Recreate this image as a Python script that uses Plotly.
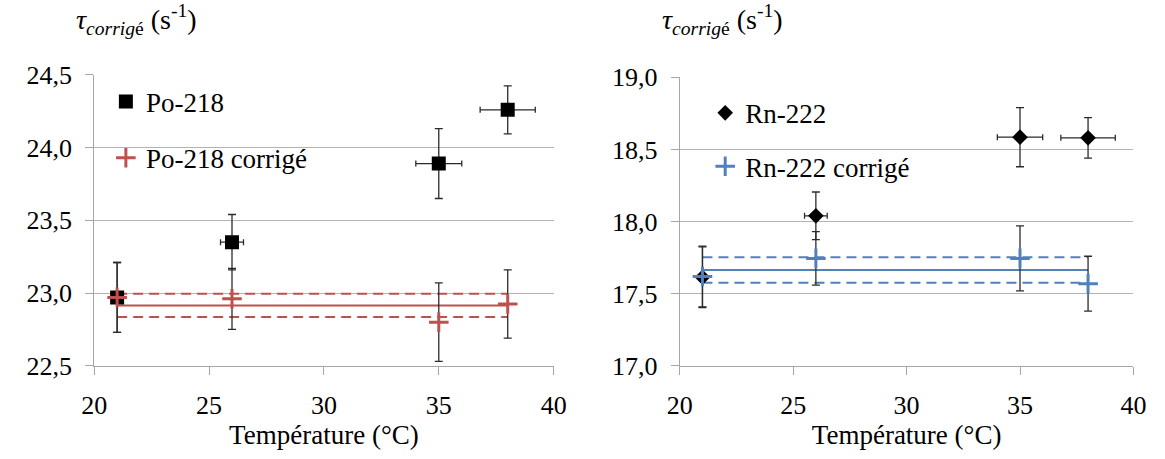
import plotly.graph_objects as go

# ---- data ----
temps = [21, 26, 35, 38]

po218 = [22.97, 23.35, 23.89, 24.26]
po218_err_y = [0.24, 0.19, 0.24, 0.165]
po218_err_x = [0, 0.5, 1.0, 1.2]
po218_corr = [22.97, 22.96, 22.80, 22.925]
po218_corr_err = [0.24, 0.21, 0.27, 0.235]
po218_mean = 22.915
po218_sd = 0.08

rn222 = [17.615, 18.04, 18.585, 18.58]
rn222_err_y = [0.21, 0.165, 0.205, 0.14]
rn222_err_x = [0, 0.5, 1.0, 1.2]
rn222_corr = [17.62, 17.745, 17.745, 17.57]
rn222_corr_err = [0.21, 0.185, 0.225, 0.19]
rn222_mean = 17.665
rn222_sd = 0.088

x_ticks = [20, 25, 30, 35, 40]
left_y_ticks = [22.5, 23.0, 23.5, 24.0, 24.5]
right_y_ticks = [17.0, 17.5, 18.0, 18.5, 19.0]

# ---- style ----
W, H = 1165, 459
RED = "#c0504d"
BLUE = "#4f81bd"
ERR = "#2b2b2b"
AXC = "#a6a6a6"
GRID = "#b3b3b3"
FONT = "serif"

fig = go.Figure()

def add_panel(xa, ya, raw, raw_ex, raw_ey, corr, corr_e, mean, sd, color, raw_name, corr_name, raw_sym, raw_size, leg1, leg2):
    xs = [temps[0], temps[-1]]
    for val, dash in [(mean + sd, "10px,6px"), (mean - sd, "10px,6px"), (mean, "solid")]:
        fig.add_trace(go.Scatter(x=xs, y=[val, val], mode="lines", xaxis=xa, yaxis=ya,
                                 line=dict(color=color, width=2, dash=dash),
                                 showlegend=False, hoverinfo="skip"))
    fig.add_trace(go.Scatter(
        x=temps, y=raw, mode="markers", name=raw_name, xaxis=xa, yaxis=ya, legend=leg1,
        marker=dict(symbol=raw_sym, size=raw_size, color="black"),
        error_y=dict(type="data", array=raw_ey, color=ERR, thickness=1.3, width=4),
        error_x=dict(type="data", array=raw_ex, color=ERR, thickness=1.3, width=3),
    ))
    fig.add_trace(go.Scatter(
        x=temps, y=corr, mode="markers", name=corr_name, xaxis=xa, yaxis=ya, legend=leg2,
        marker=dict(symbol="cross-thin", size=14, color=color, line=dict(width=3, color=color)),
        error_y=dict(type="data", array=corr_e, color=ERR, thickness=1.3, width=4),
    ))

add_panel("x", "y", po218, po218_err_x, po218_err_y, po218_corr, po218_corr_err,
          po218_mean, po218_sd, RED, "Po-218", "Po-218 corrigé", "square", 14, "legend", "legend2")
add_panel("x2", "y2", rn222, rn222_err_x, rn222_err_y, rn222_corr, rn222_corr_err,
          rn222_mean, rn222_sd, BLUE, "Rn-222", "Rn-222 corrigé", "diamond", 12, "legend3", "legend4")

tickfont = dict(family=FONT, size=26, color="black")

def xaxis(domain, anchor):
    return dict(domain=domain, anchor=anchor, range=[20, 40], tickvals=x_ticks, showline=True, linecolor=AXC,
                linewidth=1, ticks="outside", ticklen=8, tickcolor=AXC, showgrid=False,
                zeroline=False, tickfont=tickfont, ticklabelstandoff=8,
                title=dict(text="Température (°C)", font=dict(family=FONT, size=27, color="black"), standoff=4))

def yaxis(domain, anchor, rng, ticks):
    return dict(domain=domain, anchor=anchor, range=rng, tickvals=ticks, tickformat=".1f", showline=True,
                linecolor=AXC, linewidth=1, ticks="outside", ticklen=8, tickcolor=AXC, ticklabelstandoff=8,
                showgrid=True, gridcolor=GRID, gridwidth=1, zeroline=False, tickfont=tickfont)

def leg(xpx, ypx):
    return dict(x=xpx / W, y=1 - ypx / H, xref="paper", yref="paper", xanchor="left", yanchor="middle",
                bgcolor="rgba(0,0,0,0)", font=dict(family=FONT, size=27, color="black"),
                itemwidth=30, borderwidth=0)

title_txt = "<i>τ</i><sub><i>corrig</i>é</sub> (s<sup>-1</sup>)"

fig.update_layout(
    width=W, height=H, margin=dict(l=0, r=0, t=0, b=0),
    paper_bgcolor="white", plot_bgcolor="white",
    separators=", ",
    font=dict(family=FONT),
    xaxis=xaxis([83 / W, 553 / W], "y"),
    yaxis=yaxis([1 - 375.5 / H, 1 - 65 / H], "x", [22.5, 24.5], left_y_ticks),
    xaxis2=xaxis([682 / W, 1146 / W], "y2"),
    yaxis2=yaxis([1 - 375.7 / H, 1 - 67.5 / H], "x2", [17.0, 19.0], right_y_ticks),
    legend=leg(95, 94),
    legend2=leg(95, 154),
    legend3=leg(708, 106),
    legend4=leg(708, 163),
    annotations=[
        dict(text=title_txt, x=62 / W, y=1 + 17 / H, xref="paper", yref="paper", xanchor="left",
             yanchor="top", showarrow=False, font=dict(family=FONT, size=28, color="black")),
        dict(text=title_txt, x=662 / W, y=1 + 17 / H, xref="paper", yref="paper", xanchor="left",
             yanchor="top", showarrow=False, font=dict(family=FONT, size=28, color="black")),
    ],
)

fig.write_html("out.html", post_script="document.body.style.margin='0';",
               config={"displayModeBar": False})
